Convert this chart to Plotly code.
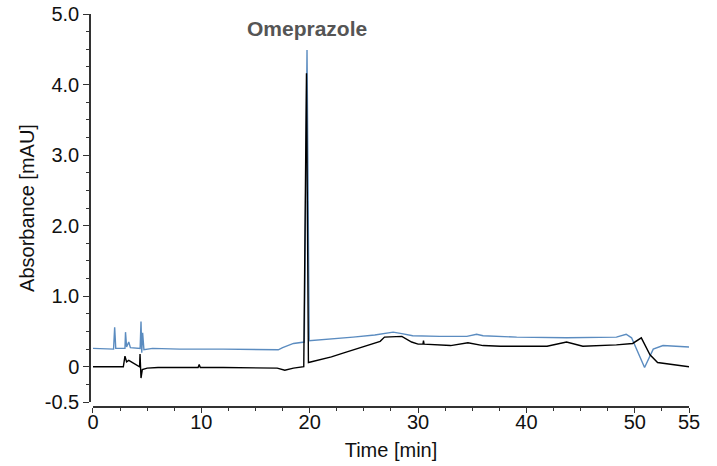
import plotly.graph_objects as go

# Black trace (time in min, absorbance in mAU)
black_t = [0, 1.0, 2.0, 2.8, 2.95, 3.1, 3.3, 3.6, 4.0, 4.3, 4.34, 4.43, 4.55, 5.0, 6.0, 8.0,
           9.7, 9.8, 9.9, 12.0, 15.0, 16.5, 17.0, 17.7, 18.5, 19.45, 19.7, 19.88,
           21.0, 22.0, 23.0, 24.0, 25.0, 26.0, 26.5, 26.9, 28.5, 29.4, 30.0, 30.45, 30.5, 30.55,
           33.0, 34.6, 36.0, 37.6, 41.9, 43.7, 45.2, 48.3, 49.8, 50.6, 51.4, 52.1, 53.5, 55.0]
black_v = [0.0, 0.0, -0.01, 0.0, 0.15, 0.07, 0.09, 0.06, 0.03, 0.0, 0.18, -0.16, -0.04, -0.02, -0.01, -0.01,
           -0.01, 0.03, -0.01, -0.01, -0.01, -0.01, -0.02, -0.05, -0.02, 0.0, 4.16, 0.06,
           0.1, 0.14, 0.19, 0.24, 0.29, 0.33, 0.36, 0.42, 0.43, 0.35, 0.32, 0.32, 0.37, 0.32,
           0.30, 0.34, 0.30, 0.29, 0.29, 0.35, 0.29, 0.31, 0.33, 0.41, 0.17, 0.06, 0.03, 0.0]

# Blue trace
blue_t = [0, 1.0, 1.9, 2.0, 2.1, 2.95, 3.0, 3.1, 3.3, 3.45, 4.35, 4.43, 4.5, 4.58, 4.7, 5.5,
          8.0, 12.0, 16.5, 17.1, 17.5, 18.5, 19.5, 19.75, 19.95, 22.0, 24.0, 26.0,
          27.7, 28.5, 29.5, 32.0, 34.5, 35.4, 36.0, 39.1, 43.7, 48.3, 49.2, 49.7, 50.9, 51.7,
          52.6, 55.0]
blue_v = [0.26, 0.25, 0.25, 0.56, 0.26, 0.26, 0.49, 0.28, 0.35, 0.27, 0.26, 0.64, 0.2, 0.48, 0.24, 0.26,
          0.25, 0.25, 0.25, 0.24, 0.27, 0.33, 0.35, 4.49, 0.37, 0.39, 0.42, 0.45,
          0.49, 0.47, 0.44, 0.43, 0.43, 0.46, 0.44, 0.42, 0.41, 0.42, 0.46, 0.41, -0.01, 0.25,
          0.30, 0.28]

x_ticks = [0, 10, 20, 30, 40, 50, 55]
x_ticktext = ["0", "10", "20", "30", "40", "50", "55"]
x_minor = [2.5, 5, 7.5, 12.5, 15, 17.5, 22.5, 25, 27.5, 32.5, 35, 37.5, 42.5, 45, 47.5, 52.5]
y_ticks = [-0.5, 0, 1, 2, 3, 4, 5]
y_ticktext = ["-0.5", "0", "1.0", "2.0", "3.0", "4.0", "5.0"]
y_minor = [-0.25, 0.25, 0.5, 0.75, 1.25, 1.5, 1.75, 2.25, 2.5, 2.75, 3.25, 3.5, 3.75,
           4.25, 4.5, 4.75]

peak_label = "Omeprazole"
peak_t = 19.75
peak_label_y = 4.8

FONT = "Liberation Sans, Arial, sans-serif"

fig = go.Figure()
fig.add_trace(go.Scatter(x=blue_t, y=blue_v, mode="lines",
                         line=dict(color="#5b8cc0", width=1.4), showlegend=False))
fig.add_trace(go.Scatter(x=black_t, y=black_v, mode="lines",
                         line=dict(color="#000000", width=1.4), showlegend=False))

fig.add_annotation(x=peak_t, y=peak_label_y, text="<b>%s</b>" % peak_label, showarrow=False,
                   font=dict(family=FONT, size=21, color="#555555"), xanchor="center",
                   yanchor="middle")

fig.update_layout(
    width=717, height=466,
    margin=dict(l=90, r=28, t=14, b=59),
    plot_bgcolor="white", paper_bgcolor="white",
    font=dict(family=FONT, size=20, color="#111111"),
    xaxis=dict(range=[0, 55], domain=[0.005, 1], anchor="free", position=0,
               automargin=False, ticklabelstandoff=-8,
               tickmode="array", tickvals=x_ticks, ticktext=x_ticktext,
               showline=True, linecolor="#333333", linewidth=1.5,
               ticks="outside", ticklen=5, tickwidth=1.2, tickcolor="#333333",
               minor=dict(tickmode="array", tickvals=x_minor, ticks="outside",
                          ticklen=3, tickwidth=1, tickcolor="#333333"),
               showgrid=False, zeroline=False,
               title=dict(text="Time [min]", standoff=10, font=dict(size=20)),
               tickfont=dict(size=20)),
    yaxis=dict(range=[-0.5, 5.0], domain=[0.0127, 1], anchor="free", position=0,
               automargin=False,
               tickmode="array", tickvals=y_ticks, ticktext=y_ticktext,
               showline=True, linecolor="#333333", linewidth=1.5,
               ticks="outside", ticklen=6, tickwidth=1.2, tickcolor="#333333",
               minor=dict(tickmode="array", tickvals=y_minor, ticks="outside",
                          ticklen=3, tickwidth=1, tickcolor="#333333"),
               showgrid=False, zeroline=False,
               title=dict(text="Absorbance [mAU]", standoff=4, font=dict(size=20)),
               tickfont=dict(size=20)),
)

fig.write_html("out.html")
